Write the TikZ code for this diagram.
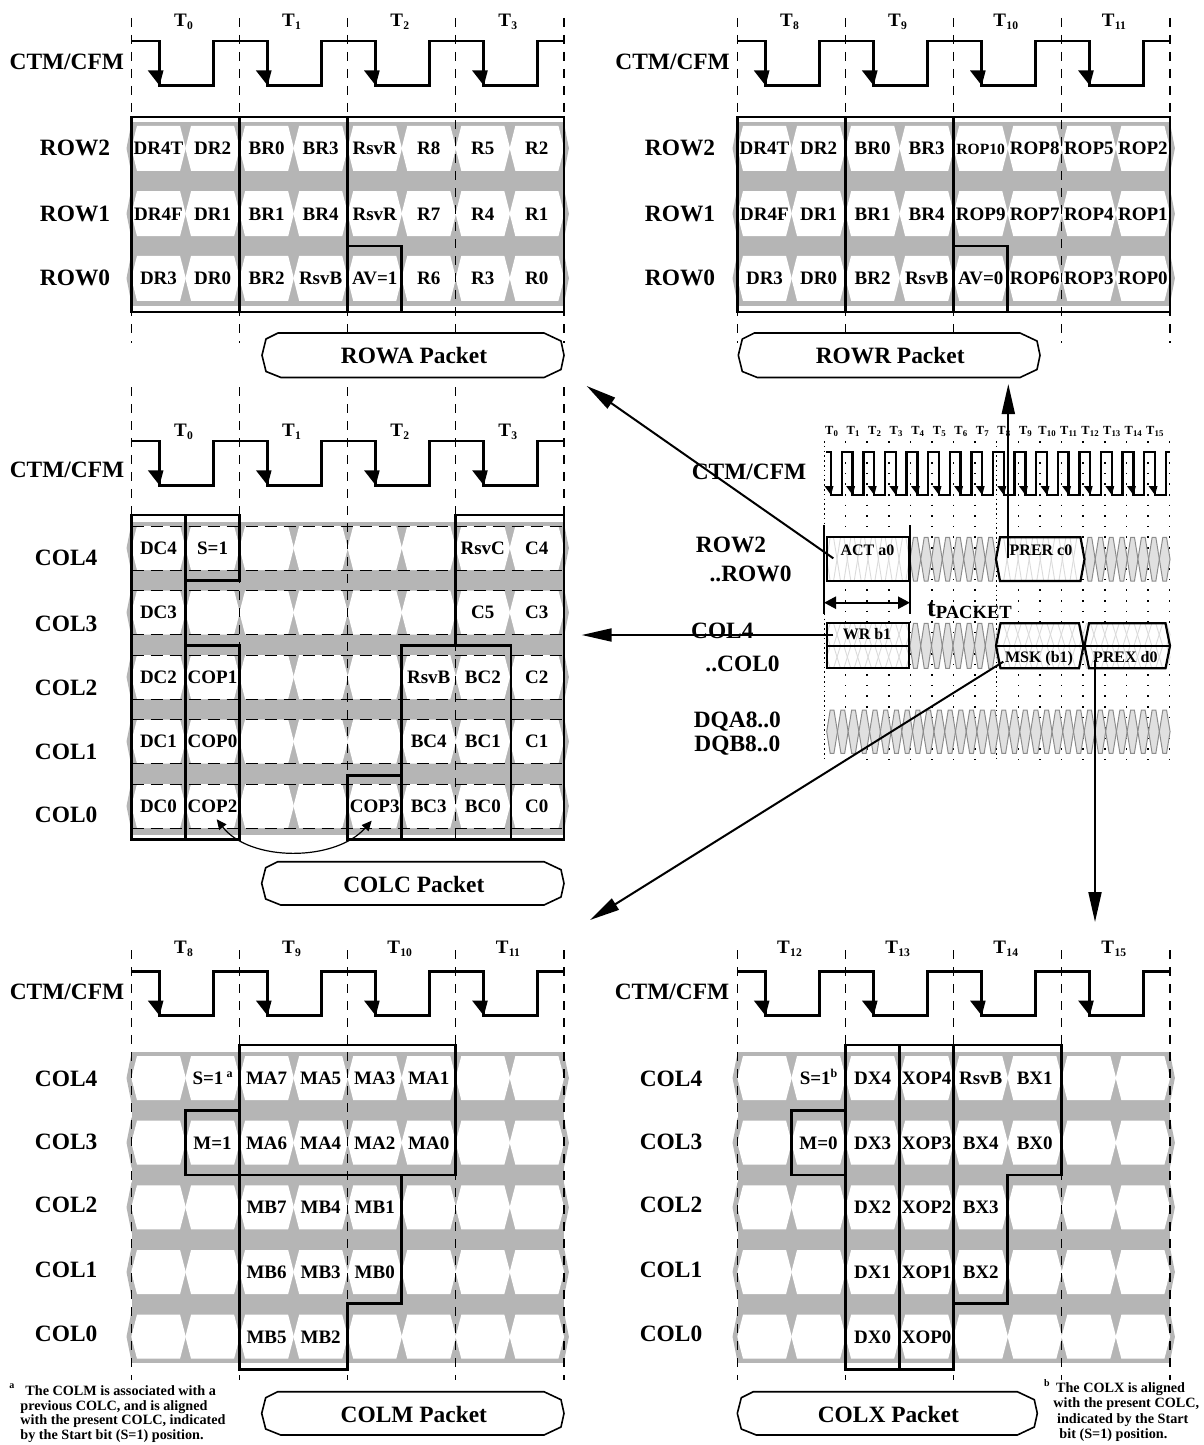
\documentclass[tikz,border=0pt]{standalone}
\usepackage{fontspec}
\setmainfont{Liberation Serif}
\usetikzlibrary{arrows.meta}
\definecolor{bandgray}{gray}{0.71}
\definecolor{eyefill}{gray}{0.88}
\definecolor{eyeline}{gray}{0.55}
\definecolor{faintgray}{gray}{0.86}
\newcommand\FS[1]{\fontsize{#1}{#1}\selectfont\bfseries}
\newcommand\Tlab[1]{T\kern0.2pt\raisebox{-1.7pt}{\FS{5.8}#1}}
\newcommand\tlab[1]{T\kern0.1pt\raisebox{-1.2pt}{\FS{4.4}#1}}
\newcommand\supa[1]{\raisebox{3.2pt}{\FS{6}#1}}
\tikzset{
 lbl/.style={inner sep=0pt, font=\FS{11.7}, text height=7.7pt, text depth=0pt},
 cell/.style={inner sep=0pt, font=\FS{9.5}, text height=6.3pt, text depth=0pt},
 tlb/.style={inner sep=0pt, font=\FS{9.5}, text height=6.3pt, text depth=0pt},
 mtl/.style={inner sep=0pt, font=\FS{6.2}, text height=4.1pt, text depth=0pt},
 mtx/.style={inner sep=0pt, font=\FS{8}, text height=5.3pt, text depth=0pt},
 fn/.style={inner sep=0pt, font=\FS{7.1}, anchor=base west},
 clk/.style={line width=1.4pt, line join=miter},
 mclk/.style={line width=1.2pt, line join=miter},
 vdash/.style={line width=0.6pt, dash pattern=on 4.5pt off 4pt},
 hdash/.style={line width=0.45pt, dash pattern=on 6pt off 3.5pt},
 boxl/.style={line width=1.4pt, line join=miter, line cap=rect},
 busbox/.style={line width=1.1pt, line join=miter},
 eyehex/.style={fill=eyefill, draw=eyeline, line width=0.5pt},
 fainthex/.style={draw=faintgray, line width=0.45pt},
 pktline/.style={line width=0.8pt, fill=white, line join=round},
 bigarr/.style={line width=1pt, -{Triangle[length=15pt,width=6.5pt]}},
 smallarr/.style={line width=0.6pt, {Triangle[length=5pt,width=4.5pt]}-{Triangle[length=5pt,width=4.5pt]}},
 tparr/.style={line width=1.2pt, {Triangle[length=6pt,width=6pt]}-{Triangle[length=6pt,width=6pt]}},
 gdense/.style={line width=0.5pt, dash pattern=on 0.8pt off 1.6pt},
 gsparse/.style={line width=0.8pt, dash pattern=on 0.8pt off 4.5pt},
}
% clock row: x0, yT, yhigh, ylow, dashtop, dashbot, firstT
\newcommand\ClockRow[7]{%
 \foreach \k in {0,...,4}{\draw[vdash] ({#1+108.1*\k},#5) -- ({#1+108.1*\k},#6);}
 \foreach \k in {0,...,3}{\pgfmathtruncatemacro\tn{#7+\k}\node[tlb] (T\tn-#2) at ({#1+52+108.1*\k},#2) {\Tlab{\tn}};}
 \draw[clk] (#1,#3) \foreach \k in {0,...,3}{ -- ({#1+28+108.1*\k},#3) -- ({#1+28+108.1*\k},#4) -- ({#1+82+108.1*\k},#4) -- ({#1+82+108.1*\k},#3)} -- ({#1+432.4},#3);
 \foreach \k in {0,...,3}{\fill ({#1+16.3+108.1*\k},{#4-15}) -- ({#1+32+108.1*\k},{#4-15}) -- ({#1+28+108.1*\k},#4) -- cycle;}
}
% band: x0, ytop, ybot, h, rows
\newcommand\Band[5]{%
 \fill[bandgray] (#1,#2) rectangle ({#1+432.4},#3);
 \foreach \yc in {#5}{%
  \fill[bandgray] ({#1-5},\yc) -- (#1,{\yc-#4/2-3}) -- ({#1+432.4},{\yc-#4/2-3}) -- ({#1+437.4},\yc) -- ({#1+432.4},{\yc+#4/2+3}) -- (#1,{\yc+#4/2+3}) -- cycle;
  \foreach \j in {0,...,7}{%
   \pgfmathsetmacro\xl{#1+54.05*\j}%
   \fill[white] ({\xl-0.2},\yc) -- ({\xl+5.5},{\yc-#4/2}) -- ({\xl+48.55},{\yc-#4/2}) -- ({\xl+54.25},\yc) -- ({\xl+48.55},{\yc+#4/2}) -- ({\xl+5.5},{\yc+#4/2}) -- cycle;
  }}}
\newcommand\Cells[4]{\foreach \j/\txt in {#4}{\node[cell] (#1-\j) at ({#2+27+54.05*\j},#3) {\txt};}}
\newcommand\Packet[6]{%
 \draw[pktline] ({#2+16},#4) -- ({#3-20},#4) -- ({#3-3},{#4+8}) -- (#3,{(#4+#5)/2}) -- ({#3-3},{#5-8}) -- ({#3-20},#5) -- ({#2+19},#5) -- ({#2+4},{#5-6}) -- (#2,{(#4+#5)/2}) -- ({#2+4},{#4+6}) -- cycle;
 \node[lbl] (#1) at ({(#2+#3)/2+1},{(#4+#5)/2+1}) {#6};}
\newcommand\Eye[6]{%
 \foreach \i in {1,...,#3}{%
  \pgfmathsetmacro\xa{#2+#4*(\i-1)}\pgfmathsetmacro\xb{#2+#4*\i}%
  \path[#1] (\xa,{(#5+#6)/2}) -- ({\xa+3.5},#5) -- ({\xb-3.5},#5) -- (\xb,{(#5+#6)/2}) -- ({\xb-3.5},#6) -- ({\xa+3.5},#6) -- cycle;}}

\begin{document}
\begin{tikzpicture}[x=0.5pt,y=-0.5pt]
\useasboundingbox (0,0) rectangle (1204,1445);

%================ ROWA (top left)
\Band{131.5}{121.7}{305.5}{45}{148.3,213.7,278.3}
\ClockRow{131.5}{20}{41}{85.5}{18}{343}{0}
\draw[boxl] (131.5,117) rectangle (563.9,312);
\draw[boxl] (239.6,117) -- (239.6,312) (347.7,117) -- (347.7,312);
\draw[boxl] (347.7,246) -- (401.7,246) -- (401.7,312);
\Cells{ra2}{131.5}{148.3}{0/DR4T,1/DR2,2/BR0,3/BR3,4/RsvR,5/R8,6/R5,7/R2}
\Cells{ra1}{131.5}{213.7}{0/DR4F,1/DR1,2/BR1,3/BR4,4/RsvR,5/R7,6/R4,7/R1}
\Cells{ra0}{131.5}{278.3}{0/DR3,1/DR0,2/BR2,3/RsvB,4/AV=1,5/R6,6/R3,7/R0}
\node[lbl] (ra-ctm) at (66.8,61.7) {CTM/CFM};
\node[lbl] (ra-l2) at (75,148) {ROW2};
\node[lbl] (ra-l1) at (75,213.3) {ROW1};
\node[lbl] (ra-l0) at (75,277.3) {ROW0};
\Packet{rowa}{262}{564}{333}{377.5}{ROWA Packet}

%================ ROWR (top right)
\Band{737.5}{121.7}{305.5}{45}{148.3,213.7,278.3}
\ClockRow{737.5}{20}{41}{85.5}{18}{343}{8}
\draw[boxl] (737.5,117) rectangle (1169.9,312);
\draw[boxl] (845.6,117) -- (845.6,312) (953.7,117) -- (953.7,312);
\draw[boxl] (953.7,246) -- (1007.7,246) -- (1007.7,312);
\Cells{rr2}{737.5}{148.3}{0/DR4T,1/DR2,2/BR0,3/BR3,4/{\FS{7.8}ROP10},5/ROP8,6/ROP5,7/ROP2}
\Cells{rr1}{737.5}{213.7}{0/DR4F,1/DR1,2/BR1,3/BR4,4/ROP9,5/ROP7,6/ROP4,7/ROP1}
\Cells{rr0}{737.5}{278.3}{0/DR3,1/DR0,2/BR2,3/RsvB,4/AV=0,5/ROP6,6/ROP3,7/ROP0}
\node[lbl] (rr-ctm) at (672.6,61.7) {CTM/CFM};
\node[lbl] (rr-l2) at (680,148) {ROW2};
\node[lbl] (rr-l1) at (680,213.3) {ROW1};
\node[lbl] (rr-l0) at (680,277.3) {ROW0};
\Packet{rowr}{738.3}{1040}{333}{377.5}{ROWR Packet}

%================ COLC (middle left)
\Band{131.5}{521.7}{835}{44}{548,612.5,677,741.5,806}
\foreach \yc in {548,612.5,677,741.5,806}{\draw[hdash] (131.5,{\yc-22}) -- (563.9,{\yc-22}) (131.5,{\yc+22}) -- (563.9,{\yc+22});}
\ClockRow{131.5}{430}{441}{485.3}{387}{839}{0}
\draw[boxl] (131.5,515) rectangle (185.6,839.3);
\draw[boxl] (185.6,515) -- (239.6,515) -- (239.6,580.7) -- (185.6,580.7);
\draw[boxl] (185.6,645.7) -- (239.6,645.7) -- (239.6,839.3) -- (185.6,839.3);
\draw[boxl] (347.7,839.3) -- (347.7,775.7) -- (401.7,775.7) -- (401.7,839.3) -- cycle;
\draw[boxl] (401.7,645.7) -- (511,645.7) -- (511,839.3) -- (401.7,839.3) -- cycle;
\draw[boxl] (455.8,645.7) -- (455.8,515) -- (563.9,515) -- (563.9,839.3) -- (511,839.3);
\Cells{cc4}{131.5}{548}{0/DC4,1/S=1,6/RsvC,7/C4}
\Cells{cc3}{131.5}{612.5}{0/DC3,6/C5,7/C3}
\Cells{cc2}{131.5}{677}{0/DC2,1/COP1,5/RsvB,6/BC2,7/C2}
\Cells{cc1}{131.5}{741.5}{0/DC1,1/COP0,5/BC4,6/BC1,7/C1}
\Cells{cc0}{131.5}{806}{0/DC0,1/COP2,4/COP3,5/BC3,6/BC0,7/C0}
\node[lbl] (cc-ctm) at (67,470) {CTM/CFM};
\node[lbl] (cc-l4) at (66.2,557.7) {COL4};
\node[lbl] (cc-l3) at (66.2,623.3) {COL3};
\node[lbl] (cc-l2) at (66.2,687.3) {COL2};
\node[lbl] (cc-l1) at (66.2,751.7) {COL1};
\node[lbl] (cc-l0) at (66.2,815) {COL0};
\coordinate (cop2tip) at (216.7,819.3);
\coordinate (cop3tip) at (371.7,820.7);
\draw[smallarr] (cop2tip) .. controls (250,862) and (335,862) .. (cop3tip);
\Packet{colc}{261.7}{564}{861.7}{905}{COLC Packet}

%================ COLM (bottom left)
\Band{131.5}{1051.7}{1363}{44}{1078,1142.7,1207.3,1272,1336.7}
\ClockRow{131.5}{947}{971.2}{1015.6}{950}{1380}{8}
\draw[boxl] (239.6,1045) -- (455.8,1045) -- (455.8,1175) -- (401.7,1175) -- (401.7,1303.3) -- (347.7,1303.3) -- (347.7,1369.3) -- (239.6,1369.3) -- cycle;
\draw[boxl] (239.6,1175) -- (401.7,1175);
\draw[boxl] (239.6,1110.7) -- (185.6,1110.7) -- (185.6,1175) -- (239.6,1175);
\Cells{cm4}{131.5}{1078}{1/{S=1\,\supa{a}},2/MA7,3/MA5,4/MA3,5/MA1}
\Cells{cm3}{131.5}{1142.7}{1/M=1,2/MA6,3/MA4,4/MA2,5/MA0}
\Cells{cm2}{131.5}{1207.3}{2/MB7,3/MB4,4/MB1}
\Cells{cm1}{131.5}{1272}{2/MB6,3/MB3,4/MB0}
\Cells{cm0}{131.5}{1336.7}{2/MB5,3/MB2}
\node[lbl] (cm-ctm) at (67,992) {CTM/CFM};
\node[lbl] (cm-l4) at (66.2,1078.3) {COL4};
\node[lbl] (cm-l3) at (66.2,1141.7) {COL3};
\node[lbl] (cm-l2) at (66.2,1205) {COL2};
\node[lbl] (cm-l1) at (66.2,1269.3) {COL1};
\node[lbl] (cm-l0) at (66.2,1333.3) {COL0};
\Packet{colm}{261.7}{564}{1391.7}{1435}{COLM Packet}
\node[inner sep=0pt, font=\FS{5}] (fa-s) at (12,1386) {a};
\node[fn] (fa1) at (25,1395.5) {The COLM is associated with a};
\node[fn] (fa2) at (20,1410.2) {previous COLC, and is aligned};
\node[fn] (fa3) at (20,1424.8) {with the present COLC, indicated};
\node[fn] (fa4) at (20,1439.5) {by the Start bit (S=1) position.};

%================ COLX (bottom right)
\Band{737.5}{1051.7}{1363}{44}{1078,1142.7,1207.3,1272,1336.7}
\ClockRow{737.5}{947}{971.2}{1015.6}{950}{1380}{12}
\draw[boxl] (845.6,1045) -- (1061.8,1045) -- (1061.8,1175) -- (1007.7,1175) -- (1007.7,1303.3) -- (953.7,1303.3) -- (953.7,1369.3) -- (845.6,1369.3) -- cycle;
\draw[boxl] (899.7,1045) -- (899.7,1369.3) (953.7,1045) -- (953.7,1303.3);
\draw[boxl] (845.6,1110.7) -- (791.6,1110.7) -- (791.6,1175) -- (845.6,1175);
\Cells{cx4}{737.5}{1078}{1/{S=1\supa{b}},2/DX4,3/XOP4,4/RsvB,5/BX1}
\Cells{cx3}{737.5}{1142.7}{1/M=0,2/DX3,3/XOP3,4/BX4,5/BX0}
\Cells{cx2}{737.5}{1207.3}{2/DX2,3/XOP2,4/BX3}
\Cells{cx1}{737.5}{1272}{2/DX1,3/XOP1,4/BX2}
\Cells{cx0}{737.5}{1336.7}{2/DX0,3/XOP0}
\node[lbl] (cx-ctm) at (672,992) {CTM/CFM};
\node[lbl] (cx-l4) at (671,1078.3) {COL4};
\node[lbl] (cx-l3) at (671,1141.7) {COL3};
\node[lbl] (cx-l2) at (671,1205) {COL2};
\node[lbl] (cx-l1) at (671,1269.3) {COL1};
\node[lbl] (cx-l0) at (671,1333.3) {COL0};
\Packet{colx}{737.3}{1037.3}{1391.7}{1435}{COLX Packet}
\node[inner sep=0pt, font=\FS{5}] (fb-s) at (1047,1383) {b};
\node[fn] (fb1) at (1055.7,1392.8) {The COLX is aligned};
\node[fn] (fb2) at (1053,1407.8) {with the present COLC,};
\node[fn] (fb3) at (1056.7,1423.8) {indicated by the Start};
\node[fn] (fb4) at (1059,1438.5) {bit (S=1) position.};

%================ overview timing diagram (middle right)
\foreach \k in {0,8}{\draw[gdense] ({824+21.6*\k},441) -- ({824+21.6*\k},760);}
\foreach \k in {1,2,3,4,5,6,7,9,10,11,12,13,14,15,16}{\draw[gsparse] ({824+21.6*\k},441) -- ({824+21.6*\k},760);}
\foreach \k in {0,...,15}{\node[mtl] (mt\k) at ({831.5+21.55*\k},430) {\tlab{\k}};}
\draw[mclk] (826,451.7) \foreach \k in {0,...,15}{ -- ({831+21.6*\k},451.7) -- ({831+21.6*\k},495) -- ({841.8+21.6*\k},495) -- ({841.8+21.6*\k},451.7)} -- (1170,451.7);
\foreach \k in {0,...,15}{\fill ({831+21.6*\k-6.5},486) -- ({831+21.6*\k+2.5},486) -- ({831+21.6*\k},495) -- cycle;}
% ROW bus
\Eye{eyehex}{910}{8}{10.75}{537.3}{581}
\Eye{eyehex}{1084.5}{8}{10.69}{537.3}{581}
\fill[white] (826.7,537.3) rectangle (909.3,581);
\Eye{fainthex}{826.7}{8}{10.33}{537.3}{581}
\draw[busbox] (826.7,537.3) rectangle (909.3,581);
\fill[white] (996,559.2) -- (1000,537.3) -- (1080.5,537.3) -- (1084.5,559.2) -- (1080.5,581) -- (1000,581) -- cycle;
\Eye{fainthex}{996}{8}{11.06}{537.3}{581}
\draw[busbox] (996,559.2) -- (1000,537.3) -- (1080.5,537.3) -- (1084.5,559.2) -- (1080.5,581) -- (1000,581) -- cycle;
\draw[boxl] (824,526.7) -- (824,612.7) (910,526.7) -- (910,612.7);
% COL bus
\Eye{eyehex}{910}{8}{10.75}{623.3}{668.3}
\fill[white] (826.7,623.3) rectangle (909.3,668.3);
\Eye{fainthex}{826.7}{8}{10.33}{623.3}{645.8}
\Eye{fainthex}{826.7}{8}{10.33}{645.8}{668.3}
\draw[busbox] (826.7,623.3) rectangle (909.3,668.3) (826.7,645.8) -- (909.3,645.8);
\fill[white] (996,645.8) -- (1000.5,623.3) -- (1079,623.3) -- (1083.5,645.8) -- (1079,668.3) -- (1000.5,668.3) -- cycle;
\fill[white] (1084.5,645.8) -- (1089,623.3) -- (1165.5,623.3) -- (1170,645.8) -- (1165.5,668.3) -- (1089,668.3) -- cycle;
\Eye{fainthex}{996}{16}{10.88}{623.3}{645.8}
\Eye{fainthex}{996}{16}{10.88}{645.8}{668.3}
\draw[busbox] (996,645.8) -- (1000.5,623.3) -- (1079,623.3) -- (1083.5,645.8) -- (1079,668.3) -- (1000.5,668.3) -- cycle;
\draw[busbox] (1084.5,645.8) -- (1089,623.3) -- (1165.5,623.3) -- (1170,645.8) -- (1165.5,668.3) -- (1089,668.3) -- cycle;
\draw[busbox] (996,645.8) -- (1170,645.8);
% DQ bus
\Eye{eyehex}{826.7}{32}{10.73}{710}{753.3}
% texts
\node[mtx] (act) at (867.5,550) {ACT a0};
\node[mtx] (prer) at (1041,550) {PRER c0};
\node[mtx] (wr) at (867,634.3) {WR b1};
\node[mtx] (msk) at (1039,656.7) {MSK (b1)};
\node[mtx] (prex) at (1125.3,656.7) {PREX d0};
\coordinate (tpl) at (824,602.7);
\coordinate (tpr) at (910,602.7);
\draw[tparr] (tpl) -- (tpr);
\node[inner sep=0pt, anchor=base west] (tpk) at (926.7,616) {\FS{13}t\raisebox{-1pt}{\FS{9.3}PACKET}};
\node[lbl] (m-ctm) at (749,471.7) {CTM/CFM};
\node[lbl] (m-row2) at (731,545) {ROW2};
\node[lbl] (m-row0) at (750.5,574) {..ROW0};
\node[lbl] (m-col4) at (722.3,631) {COL4};
\node[lbl] (m-col0) at (742.5,663.3) {..COL0};
\node[lbl] (m-dqa) at (737.3,720) {DQA8..0};
\node[lbl] (m-dqb) at (737.3,743.3) {DQB8..0};

%================ connectors
\coordinate (actsrc) at (833.3,558.3);
\coordinate (rowatip) at (586.7,386);
\coordinate (prersrc) at (1008.3,558.3);
\coordinate (rowrtip) at (1008.3,384);
\coordinate (wrsrc) at (833.3,635);
\coordinate (colctip) at (581.7,635);
\coordinate (msksrc) at (1003.3,661.7);
\coordinate (colmtip) at (590,920);
\coordinate (prexsrc) at (1095,660);
\coordinate (colxtip) at (1095,922);
\draw[bigarr] (actsrc) -- (rowatip);
\draw[bigarr] (prersrc) -- (rowrtip);
\draw[bigarr] (wrsrc) -- (colctip);
\draw[bigarr] (msksrc) -- (colmtip);
\draw[bigarr] (prexsrc) -- (colxtip);
\end{tikzpicture}
\end{document}
